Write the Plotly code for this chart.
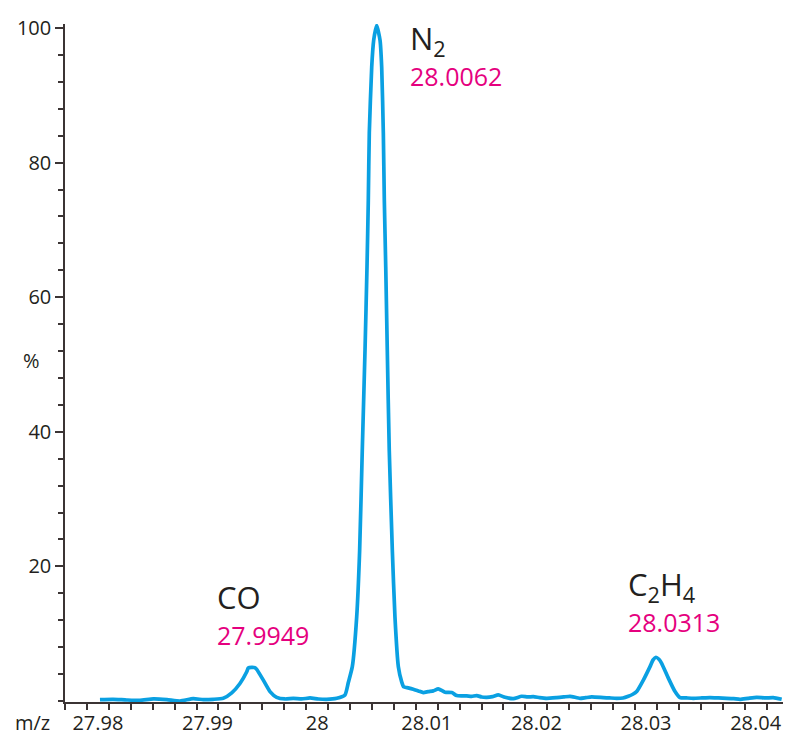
import plotly.graph_objects as go

# ---- data ----
mz = [
    27.98119, 27.98238, 27.98363, 27.98484, 27.98606, 27.98730, 27.98849, 27.98970,
    27.99062, 27.99153, 27.99244, 27.99321, 27.99396, 27.99458, 27.99472, 27.99503,
    27.99531, 27.99549, 27.99609, 27.99670, 27.99731, 27.99807, 27.99883, 27.99959,
    28.00035, 28.00111, 28.00187, 28.00279, 28.00354, 28.00384, 28.00421, 28.00461,
    28.00488, 28.00512, 28.00537, 28.00555, 28.00567, 28.00576, 28.00598, 28.00616,
    28.00643, 28.00674, 28.00689, 28.00704, 28.00713, 28.00726, 28.00740, 28.00758,
    28.00786, 28.00810, 28.00841, 28.00872, 28.00890, 28.00930, 28.00977, 28.01023,
    28.01069, 28.01114, 28.01160, 28.01205, 28.01267, 28.01328, 28.01373, 28.01420,
    28.01465, 28.01510, 28.01556, 28.01600, 28.01647, 28.01700, 28.01753, 28.01814,
    28.01890, 28.01966, 28.02020, 28.02072, 28.02130, 28.02194, 28.02286, 28.02350,
    28.02407, 28.02498, 28.02550, 28.02605, 28.02711, 28.02770, 28.02833, 28.02890,
    28.02939, 28.02980, 28.03015, 28.03076, 28.03137, 28.03165, 28.03191, 28.03218,
    28.03243, 28.03304, 28.03365, 28.03410, 28.03470, 28.03532, 28.03610, 28.03684,
    28.03760, 28.03836, 28.03900, 28.03958, 28.04030, 28.04110, 28.04190, 28.04261,
    28.04338,
]
intensity = [
    0.2, 0.25, 0.15, 0.1, 0.3, 0.2, 0.0, 0.35,
    0.2, 0.25, 0.4, 1.2, 2.6, 4.35, 4.9, 5.0,
    4.95, 4.7, 3.1, 1.4, 0.55, 0.3, 0.4, 0.3,
    0.45, 0.3, 0.25, 0.4, 0.9, 2.7, 5.1, 12.5,
    22.4, 37.3, 52.2, 64.5, 74.4, 84.4, 94.2, 98.2,
    100.4, 98.2, 94.2, 84.4, 74.4, 64.5, 52.2, 37.3,
    22.4, 12.5, 5.1, 2.8, 2.1, 1.95, 1.75, 1.5,
    1.25, 1.4, 1.5, 1.8, 1.3, 1.25, 0.8, 0.75,
    0.75, 0.7, 0.8, 0.6, 0.55, 0.65, 0.9, 0.55,
    0.35, 0.7, 0.6, 0.65, 0.5, 0.4, 0.5, 0.6,
    0.7, 0.4, 0.5, 0.6, 0.5, 0.45, 0.4, 0.45,
    0.7, 1.0, 1.4, 3.1, 5.1, 6.1, 6.5, 6.2,
    5.6, 3.4, 1.4, 0.5, 0.45, 0.4, 0.45, 0.5,
    0.45, 0.4, 0.35, 0.25, 0.4, 0.55, 0.45, 0.5,
    0.25,
]
assert len(mz) == len(intensity)

peak_names = ["CO", "N<sub>2</sub>", "C<sub>2</sub>H<sub>4</sub>"]
peak_mz = [27.9949, 28.0062, 28.0313]
peak_labels = ["27.9949", "28.0062", "28.0313"]

x_tickvals = [27.98, 27.99, 28.00, 28.01, 28.02, 28.03, 28.04]
x_ticktext = ["27.98", "27.99", "28", "28.01", "28.02", "28.03", "28.04"]
y_tickvals = [20, 40, 60, 80, 100]
y_ticktext = ["20", "40", "60", "80", "100"]

# ---- styles ----
LINE_COLOR = "#0aa0e2"
PINK = "#e5007e"
TEXT = "#231f20"
AXIS = "#3b3434"
FONT = "Open Sans"

fig = go.Figure()
fig.add_trace(go.Scatter(
    x=mz, y=intensity, mode="lines",
    line=dict(color=LINE_COLOR, width=3.7, shape="spline", smoothing=0.5),
    hoverinfo="skip", showlegend=False,
))

# label placement (name line, value line): y in data units, x shift in px
name_y = [15.4, 98.2, 17.1]
val_y = [9.85, 92.8, 11.7]
x_shift = [-35, 34, -23]
for i in range(len(peak_mz)):
    fig.add_annotation(x=peak_mz[i], y=name_y[i], xref="x", yref="y",
                       text=peak_names[i], showarrow=False,
                       xanchor="left", yanchor="middle", xshift=x_shift[i],
                       font=dict(family=FONT, size=31, color=TEXT))
    fig.add_annotation(x=peak_mz[i], y=val_y[i], xref="x", yref="y",
                       text=peak_labels[i], showarrow=False,
                       xanchor="left", yanchor="middle", xshift=x_shift[i],
                       font=dict(family=FONT, size=25, color=PINK))

fig.add_annotation(x=-0.045, y=-0.0295, xref="paper", yref="paper",
                   text="m/z", showarrow=False, xanchor="center", yanchor="middle",
                   font=dict(family=FONT, size=20, color=TEXT))
fig.add_annotation(x=-0.046, y=0.5044, xref="paper", yref="paper",
                   text="%", showarrow=False, xanchor="center", yanchor="middle",
                   font=dict(family=FONT, size=20, color=TEXT))

fig.update_layout(
    width=786, height=736,
    margin=dict(l=65, r=3, t=24, b=34),
    paper_bgcolor="white", plot_bgcolor="white",
    font=dict(family=FONT, size=20, color=TEXT),
    xaxis=dict(
        range=[27.978, 28.0435], automargin=False,
        tickmode="array", tickvals=x_tickvals, ticktext=x_ticktext,
        ticks="outside", ticklen=6, tickwidth=1.5, tickcolor=AXIS,
        ticklabelshift=11, ticklabelstandoff=-4,
        showline=True, linecolor=AXIS, linewidth=1.5,
        showgrid=False, zeroline=False,
        minor=dict(dtick=0.002, tick0=27.98, ticks="outside", ticklen=6,
                   tickwidth=1.5, tickcolor=AXIS, showgrid=False),
        tickfont=dict(family=FONT, size=20, color=TEXT),
    ),
    yaxis=dict(
        range=[-0.15, 100.6], automargin=False,
        tickmode="array", tickvals=y_tickvals, ticktext=y_ticktext,
        ticks="outside", ticklen=8, tickwidth=1.5, tickcolor=AXIS,
        showline=True, linecolor=AXIS, linewidth=1.5,
        showgrid=False, zeroline=False,
        minor=dict(dtick=4, tick0=0, ticks="outside", ticklen=5,
                   tickwidth=1.5, tickcolor=AXIS, showgrid=False),
        tickfont=dict(family=FONT, size=20, color=TEXT),
    ),
)

fig.write_html("out.html", config={"displayModeBar": False},
               post_script="document.body.style.margin='0';document.body.style.padding='0';")
